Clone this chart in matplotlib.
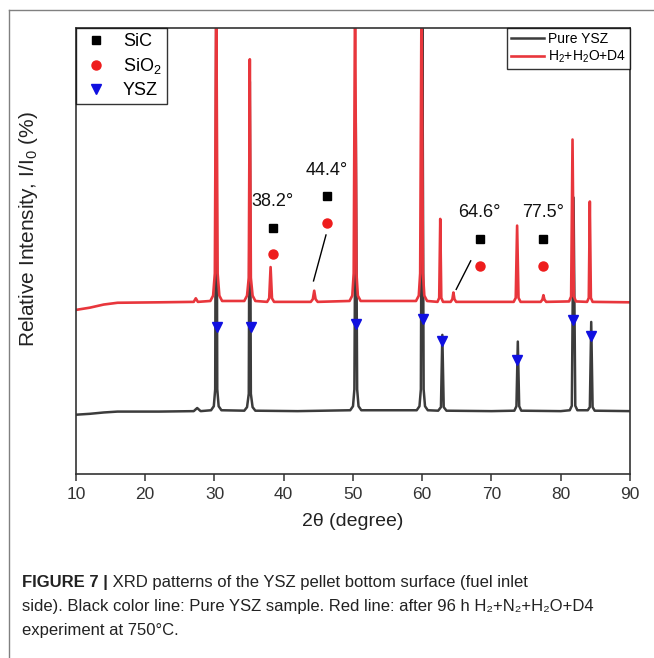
import matplotlib
matplotlib.use("Agg")
import matplotlib.pyplot as plt
from matplotlib.lines import Line2D

plt.rcParams['font.family'] = ['Liberation Sans', 'DejaVu Sans']
plt.rcParams['mathtext.fontset'] = 'custom'
plt.rcParams['mathtext.rm'] = 'Liberation Sans'
plt.rcParams['mathtext.it'] = 'Liberation Sans:italic'

# ---- data (2theta, relative intensity 0-100 scale)
# Pure YSZ pattern
pure_x = [10, 12, 14, 16, 22, 27.0, 27.5, 28.0,
          29.5, 29.9, 30.1, 30.25, 30.4, 30.6, 31.0,
          34.3, 34.7, 34.95, 35.1, 35.25, 35.5, 35.9, 42,
          49.6, 50.0, 50.2, 50.4, 50.6, 50.8, 51.2,
          59.2, 59.6, 59.8, 60.0, 60.2, 60.4, 60.8,
          62.3, 62.7, 62.9, 63.1, 63.5, 70,
          73.3, 73.6, 73.8, 74.0, 74.3, 80,
          81.3, 81.6, 81.85, 82.1, 82.4,
          83.9, 84.2, 84.4, 84.6, 84.9, 90]
pure_y = [13.3, 13.5, 13.8, 14.0, 14.0, 14.1, 14.8, 14.1,
          14.3, 15.2, 19, 110, 19, 15.2, 14.3,
          14.2, 15.0, 18, 88, 18, 15.0, 14.2, 14.1,
          14.3, 15.2, 19, 78.7, 19, 15.2, 14.3,
          14.3, 15.2, 19, 110, 19, 15.2, 14.3,
          14.2, 15.0, 31.2, 15.0, 14.2, 14.1,
          14.2, 15.2, 29.7, 15.2, 14.2, 14.1,
          14.3, 15.3, 62, 15.3, 14.3,
          14.3, 15.0, 34.1, 15.0, 14.2, 14.1]

# H2+H2O+D4 pattern
d4_x = [10, 12, 14, 16, 22, 27.0, 27.3, 27.6,
        29.4, 29.8, 30.05, 30.25, 30.45, 30.7, 31.1,
        34.3, 34.7, 34.95, 35.1, 35.25, 35.5, 35.9,
        37.6, 37.9, 38.1, 38.3, 38.6,
        43.9, 44.2, 44.4, 44.6, 44.9,
        49.5, 49.9, 50.1, 50.3, 50.5, 50.7, 51.1,
        59.1, 59.5, 59.7, 59.9, 60.1, 60.3, 60.7,
        62.2, 62.45, 62.6, 62.75, 63.0,
        64.1, 64.35, 64.5, 64.65, 64.9,
        73.2, 73.5, 73.7, 73.9, 74.2,
        77.1, 77.35, 77.5, 77.65, 77.9,
        81.2, 81.5, 81.7, 81.9, 82.2,
        83.8, 84.05, 84.2, 84.35, 84.6, 90]
d4_y = [36.8, 37.3, 38.0, 38.4, 38.5, 38.6, 39.4, 38.6,
        38.8, 40.0, 45, 110, 45, 40.0, 38.8,
        38.8, 40.0, 44, 93.0, 44, 40.0, 38.8,
        38.6, 39.4, 46.4, 39.4, 38.6,
        38.6, 39.2, 41.1, 39.2, 38.6,
        38.8, 40.0, 45, 110, 45, 40.0, 38.8,
        38.8, 40.0, 45, 110, 45, 40.0, 38.8,
        38.6, 39.5, 57.2, 39.5, 38.6,
        38.6, 39.2, 40.7, 39.2, 38.6,
        38.6, 39.5, 55.7, 39.5, 38.6,
        38.6, 39.1, 40.1, 39.1, 38.6,
        38.7, 39.8, 75.0, 39.8, 38.7,
        38.6, 39.5, 61.1, 39.5, 38.6, 38.5]

# phase markers
ysz_x = [30.3, 35.2, 50.4, 60.1, 62.9, 73.7, 81.8, 84.3]
ysz_y = [33.0, 33.0, 33.6, 34.8, 29.9, 25.6, 34.5, 30.9]
sic_x = [38.5, 46.3, 68.4, 77.5]
sic_y = [55.2, 62.4, 52.7, 52.7]
sio2_x = [38.5, 46.3, 68.4, 77.5]
sio2_y = [49.3, 56.3, 46.7, 46.7]

# peak labels
lab_text = ['38.2°', '44.4°', '64.6°', '77.5°']
lab_x = [38.4, 46.2, 68.3, 77.4]
lab_y = [61.0, 68.0, 58.7, 58.7]

# leader lines (start, end)
lead_x = [[46.1, 44.3], [67.0, 64.9]]
lead_y = [[53.6, 43.3], [47.8, 41.4]]

xticks = [10, 20, 30, 40, 50, 60, 70, 80, 90]

red = '#e8363c'
dark = '#3c3c3c'

fig = plt.figure(figsize=(6.54, 6.58), dpi=100)
ax = fig.add_axes([0.1162, 0.2796, 0.8471, 0.6778])

l1, = ax.plot(pure_x, pure_y, color=dark, lw=1.8, label='Pure YSZ')
l2, = ax.plot(d4_x, d4_y, color=red, lw=1.9, label='H$_\\mathregular{2}$+H$_\\mathregular{2}$O+D4')

for xs, ys in zip(lead_x, lead_y):
    ax.plot(xs, ys, color='black', lw=1)

m1, = ax.plot(sic_x, sic_y, 's', color='black', ms=5.5, ls='none', label='SiC')
m2, = ax.plot(sio2_x, sio2_y, 'o', color='#ee1c1c', ms=6.5, ls='none', label='SiO$_\\mathregular{2}$')
m3, = ax.plot(ysz_x, ysz_y, 'v', color='#1010e0', ms=7.5, ls='none', label='YSZ')

for t, x, y in zip(lab_text, lab_x, lab_y):
    ax.text(x, y, t, fontsize=13, ha='center', va='center', color='#111111')

ax.set_xlim(10, 90)
ax.set_ylim(0, 100)
ax.set_xticks(xticks)
ax.set_yticks([])
ax.tick_params(axis='x', direction='out', length=5, width=1.1, labelsize=12.5,
               colors='#333333', pad=4)
for s in ax.spines.values():
    s.set_linewidth(1.2)
    s.set_color('#333333')

ax.set_xlabel('2θ (degree)', fontsize=14, color='#222222', labelpad=8)
ax.set_ylabel('Relative Intensity, I/I$_\\mathregular{0}$ (%)', fontsize=15, color='#222222')
ax.yaxis.set_label_coords(-0.065, 0.55)

leg1 = ax.legend(handles=[m1, m2, m3], loc='upper left', borderaxespad=0,
                 fancybox=False, edgecolor='black', fontsize=13, handletextpad=0.7,
                 labelspacing=0.32, borderpad=0.3, handlelength=1.6)
leg1.get_frame().set_linewidth(1.0)
ax.add_artist(leg1)
leg2 = ax.legend(handles=[l1, l2], loc='upper right', borderaxespad=0,
                 fancybox=False, edgecolor='black', fontsize=10, handletextpad=0.3,
                 labelspacing=0.25, borderpad=0.25, handlelength=2.4)
leg2.get_frame().set_linewidth(1.0)

# open frame around the figure (left + top)
fig.add_artist(Line2D([9 / 654, 9 / 654], [0, 1 - 10 / 658], color='#808080', lw=1))
fig.add_artist(Line2D([9 / 654, 1], [1 - 10 / 658, 1 - 10 / 658], color='#808080', lw=1))

# caption
cap_fam = ['Liberation Sans Narrow', 'Liberation Sans', 'DejaVu Sans']
cx = 22 / 654
tb = fig.text(cx, 1 - 587 / 658, 'FIGURE 7 |', fontsize=12, fontweight='bold',
              family=cap_fam, color='#222222', va='baseline')
ax.annotate(' XRD patterns of the YSZ pellet bottom surface (fuel inlet', xy=(1, 0),
            xycoords=tb, fontsize=12, family=cap_fam, color='#222222',
            va='bottom', ha='left', annotation_clip=False)
fig.text(cx, 1 - 611 / 658,
         'side). Black color line: Pure YSZ sample. Red line: after 96 h H₂+N₂+H₂O+D4',
         fontsize=12, family=cap_fam, color='#222222', va='baseline')
fig.text(cx, 1 - 635 / 658, 'experiment at 750°C.', fontsize=12, family=cap_fam,
         color='#222222', va='baseline')

fig.savefig('out.png', dpi=100)
